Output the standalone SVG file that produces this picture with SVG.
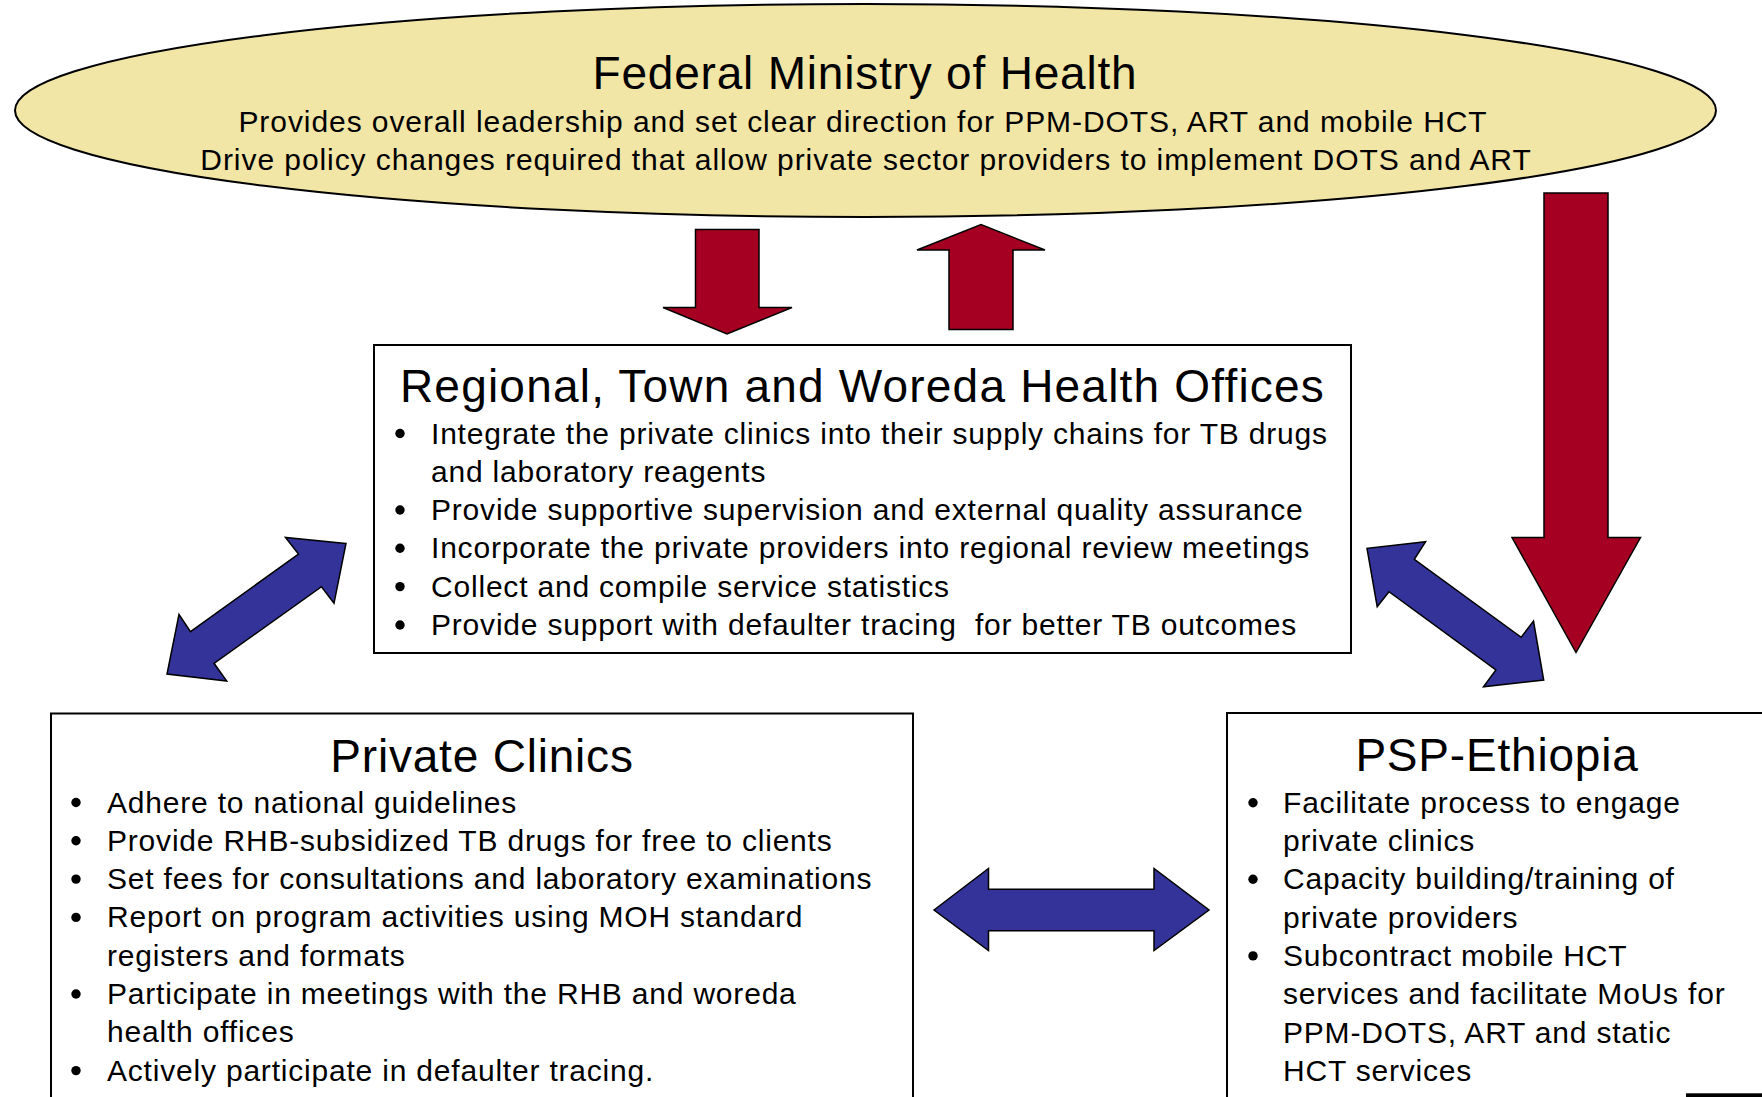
<svg xmlns="http://www.w3.org/2000/svg" width="1762" height="1097" viewBox="0 0 1762 1097">
  <style>
    text { font-family: "Liberation Sans", Arial, sans-serif; fill: #000; letter-spacing: 0.8px; }
    .title { font-size: 46px; text-anchor: middle; }
    .wide { letter-spacing: 1.2px; }
    .body { font-size: 30px; }
    .mid { text-anchor: middle; letter-spacing: 0.93px; }
    .dot { fill: #000; }
    .box { fill: #ffffff; stroke: #000; stroke-width: 2; }
    .red { fill: #A50021; stroke: #000; stroke-width: 1.5; stroke-linejoin: miter; }
    .blue { fill: #333399; stroke: #000; stroke-width: 1.5; stroke-linejoin: miter; }
  </style>

  <defs>
    <circle id="bullet" class="dot" r="4.7"/>
  </defs>

  <rect width="1762" height="1097" fill="#ffffff"/>

  <!-- Federal Ministry of Health -->
  <g id="fmoh">
    <ellipse cx="865.5" cy="110.5" rx="850.5" ry="106.5" fill="#F2E6A7" stroke="#000" stroke-width="2"/>
    <text class="title" x="865" y="89">Federal Ministry of Health</text>
    <text class="body mid" x="863" y="131.5">Provides overall leadership and set clear direction for PPM-DOTS, ART and mobile HCT</text>
    <text class="body mid" x="866" y="170">Drive policy changes required that allow private sector providers to implement DOTS and ART</text>
  </g>

  <!-- Regional, Town and Woreda Health Offices -->
  <g id="regional">
    <rect class="box" x="374" y="345" width="977" height="308"/>
    <text class="title wide" x="862.5" y="401.5">Regional, Town and Woreda Health Offices</text>
    <use href="#bullet" x="400" y="433.5"/>
    <use href="#bullet" x="400" y="510"/>
    <use href="#bullet" x="400" y="548.3"/>
    <use href="#bullet" x="400" y="586.6"/>
    <use href="#bullet" x="400" y="625"/>
    <text class="body" x="431" y="443.5">Integrate the private clinics into their supply chains for TB drugs</text>
    <text class="body" x="431" y="481.8">and laboratory reagents</text>
    <text class="body" x="431" y="520">Provide supportive supervision and external quality assurance</text>
    <text class="body" x="431" y="558.3">Incorporate the private providers into regional review meetings</text>
    <text class="body" x="431" y="596.6">Collect and compile service statistics</text>
    <text class="body" x="431" y="635" xml:space="preserve">Provide support with defaulter tracing  for better TB outcomes</text>
  </g>

  <!-- Private Clinics -->
  <g id="private-clinics">
    <rect class="box" x="51" y="713.5" width="862" height="400"/>
    <text class="title" x="482" y="771.5">Private Clinics</text>
    <use href="#bullet" x="76" y="802.5"/>
    <use href="#bullet" x="76" y="840.8"/>
    <use href="#bullet" x="76" y="879.1"/>
    <use href="#bullet" x="76" y="917.4"/>
    <use href="#bullet" x="76" y="994"/>
    <use href="#bullet" x="76" y="1070.6"/>
    <text class="body" x="107" y="812.5">Adhere to national guidelines</text>
    <text class="body" x="107" y="850.8">Provide RHB-subsidized TB drugs for free to clients</text>
    <text class="body" x="107" y="889.1">Set fees for consultations and laboratory examinations</text>
    <text class="body" x="107" y="927.4">Report on program activities using MOH standard</text>
    <text class="body" x="107" y="965.7">registers and formats</text>
    <text class="body" x="107" y="1004">Participate in meetings with the RHB and woreda</text>
    <text class="body" x="107" y="1042.3">health offices</text>
    <text class="body" x="107" y="1080.6">Actively participate in defaulter tracing.</text>
  </g>

  <!-- PSP-Ethiopia -->
  <g id="psp-ethiopia">
    <rect class="box" x="1227" y="713" width="540" height="400"/>
    <text class="title" x="1497" y="771">PSP-Ethiopia</text>
    <use href="#bullet" x="1253" y="802.7"/>
    <use href="#bullet" x="1253" y="879.3"/>
    <use href="#bullet" x="1253" y="955.9"/>
    <text class="body" x="1283" y="812.7">Facilitate process to engage</text>
    <text class="body" x="1283" y="851">private clinics</text>
    <text class="body" x="1283" y="889.3">Capacity building/training of</text>
    <text class="body" x="1283" y="927.6">private providers</text>
    <text class="body" x="1283" y="965.9">Subcontract mobile HCT</text>
    <text class="body" x="1283" y="1004.2">services and facilitate MoUs for</text>
    <text class="body" x="1283" y="1042.5">PPM-DOTS, ART and static</text>
    <text class="body" x="1283" y="1080.8">HCT services</text>
  </g>

  <!-- block arrows between the offices -->
  <g id="connectors">
    <polygon class="red" points="695.5,229.5 759,229.5 759,307.5 792,307.5 727,334 663,307.5 695.5,307.5"/>
    <polygon class="red" points="949,329.5 1013,329.5 1013,250 1045,250 981,224.5 917,250 949,250"/>
    <polygon class="red" points="1544,193 1608,193 1608,537.5 1640.5,537.5 1576,652.5 1512,537.5 1544,537.5"/>
    <polygon class="blue" points="346,543.5 285.5,537.5 298.5,554 190.5,631.7 179,614.5 167,674 226.7,681 214,663.3 321.5,586.7 334,603.3"/>
    <polygon class="blue" points="1367,548.3 1377.2,606.7 1389,591.7 1495.9,670 1483.5,686.7 1543.7,680 1533.5,621 1521.2,637.3 1414.3,559.3 1425.6,541.7"/>
    <polygon class="blue" points="934,910 988.5,868.5 988.5,889.3 1154,889.3 1154,868.5 1209,910 1154,950.5 1154,930.7 988.5,930.7 988.5,950.5"/>
  </g>

  <!-- edge of a shape below the page -->
  <rect x="1686" y="1093.3" width="80" height="6" fill="#000"/>
</svg>
